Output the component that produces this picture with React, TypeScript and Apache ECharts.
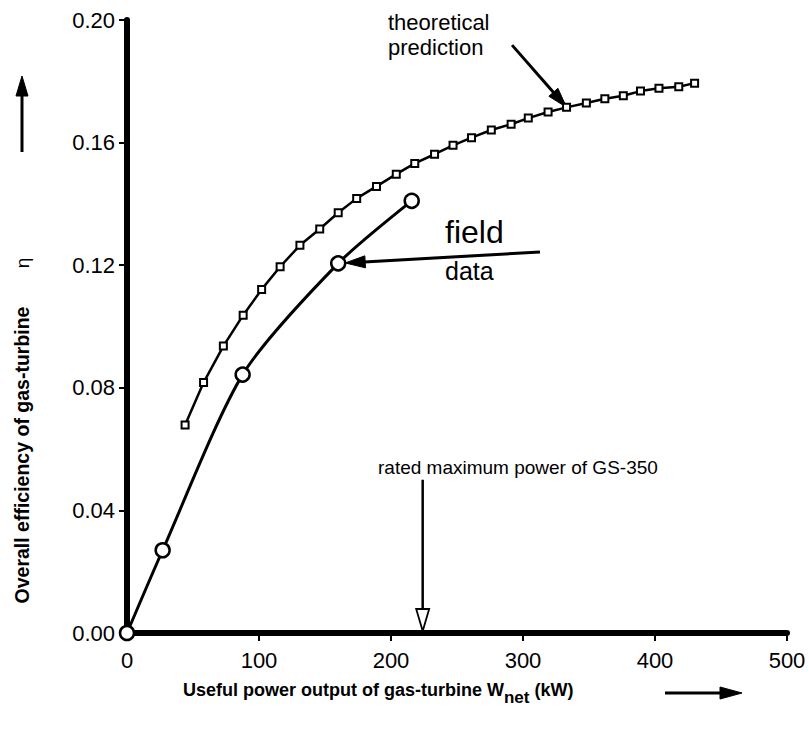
import React, { useEffect, useRef } from "react";
import * as echarts from "echarts";

// Theoretical prediction (square markers)
const theoryX = [44, 58, 73, 88, 102, 116, 131, 146, 160, 174, 189, 204, 218, 233, 247, 261, 276, 291, 304, 319, 333, 348, 362, 376, 389, 403, 418, 430];
const theoryY = [0.0679, 0.0817, 0.0936, 0.1037, 0.1121, 0.1195, 0.1265, 0.1318, 0.1371, 0.1418, 0.1457, 0.1497, 0.1532, 0.1562, 0.1591, 0.1616, 0.1641, 0.166, 0.168, 0.17, 0.1715, 0.1729, 0.1743, 0.1753, 0.1768, 0.1777, 0.1782, 0.1794];
// Field data (circle markers)
const fieldX = [0, 27, 87.6, 160, 215.7];
const fieldY = [0, 0.027, 0.0843, 0.1206, 0.141];
// Axis ranges
const xMin = 0, xMax = 500, xStep = 100;
const yMin = 0, yMax = 0.2, yStep = 0.04;
const ratedPower = 224;

const FONT = "Liberation Sans, Arial, Helvetica, sans-serif";

type P = number[];
function arrow(from: P, to: P, headLen: number, headW: number, open: boolean, lw: number) {
  const dx = to[0] - from[0], dy = to[1] - from[1];
  const L = Math.hypot(dx, dy);
  const ux = dx / L, uy = dy / L;
  const bx = to[0] - ux * headLen, by = to[1] - uy * headLen;
  const nx = -uy, ny = ux;
  return [
    {
      type: "line",
      silent: true,
      shape: { x1: from[0], y1: from[1], x2: bx + ux * 1, y2: by + uy * 1 },
      style: { stroke: "#000", lineWidth: lw },
    },
    {
      type: "polygon",
      silent: true,
      shape: {
        points: [
          [to[0], to[1]],
          [bx + (nx * headW) / 2, by + (ny * headW) / 2],
          [bx - (nx * headW) / 2, by - (ny * headW) / 2],
        ],
      },
      style: { fill: open ? "#fff" : "#000", stroke: "#000", lineWidth: open ? 1.8 : 1 },
    },
  ];
}

export default function App() {
  const ref = useRef<HTMLDivElement>(null);
  useEffect(() => {
    document.body.style.margin = "0";
    const chart = echarts.init(ref.current!, null, { renderer: "svg" });
    const axisCommon = {
      axisLine: { show: true, onZero: false, lineStyle: { color: "#000", width: 6 } },
      axisTick: { show: true, inside: false, length: 8, lineStyle: { color: "#000", width: 2 } },
      splitLine: { show: false },
    };
    chart.setOption({
      animation: false,
      backgroundColor: "#fff",
      grid: { left: 127, right: 22, top: 20, bottom: 98, containLabel: false },
      xAxis: {
        type: "value",
        min: xMin,
        max: xMax,
        interval: xStep,
        ...axisCommon,
        axisLabel: { color: "#000", fontFamily: FONT, fontSize: 22, margin: 16 },
      },
      yAxis: {
        type: "value",
        min: yMin,
        max: yMax,
        interval: yStep,
        ...axisCommon,
        axisLabel: {
          color: "#000",
          fontFamily: FONT,
          fontSize: 22,
          margin: 12,
          formatter: (v: number) => v.toFixed(2),
        },
      },
      series: [
        {
          name: "theoretical prediction",
          type: "line",
          data: theoryX.map((x, i) => [x, theoryY[i]]),
          symbol: "rect",
          symbolSize: 7,
          showAllSymbol: true,
          lineStyle: { color: "#000", width: 2.5 },
          itemStyle: { color: "#fff", borderColor: "#000", borderWidth: 2 },
          z: 3,
        },
        {
          name: "field data",
          type: "line",
          data: fieldX.map((x, i) => [x, fieldY[i]]),
          smooth: 0.25,
          symbol: "circle",
          symbolSize: 14,
          showAllSymbol: true,
          lineStyle: { color: "#000", width: 3 },
          itemStyle: { color: "#fff", borderColor: "#000", borderWidth: 2.5 },
          z: 4,
        },
      ],
    });

    const px = (x: number, y: number) => chart.convertToPixel({ gridIndex: 0 }, [x, y]) as number[];

    // theoretical arrow
    const tTip = px(theoryX[20], theoryY[20]);
    const tFrom = px(291.7, 0.1918);
    // field arrow
    const fC = px(fieldX[3], fieldY[3]);
    const fFrom = px(312.9, 0.1243);
    const fdx = fFrom[0] - fC[0], fdy = fFrom[1] - fC[1];
    const fl = Math.hypot(fdx, fdy);
    const fTip = [fC[0] + (fdx / fl) * 7, fC[1] + (fdy / fl) * 7];
    // rated arrow
    const rFrom = px(ratedPower, 0.05);
    const rTip = px(ratedPower, 0);

    const txt = (text: string, x: number, y: number, size: number, extra: any = {}) => ({
      type: "text",
      silent: true,
      x,
      y,
      style: {
        text,
        fill: "#000",
        font: `${extra.bold ? "bold " : ""}${size}px ${FONT}`,
        textAlign: extra.align || "left",
        textVerticalAlign: "middle",
      },
      rotation: extra.rotation || 0,
    });

    chart.setOption({
      graphic: [
        ...arrow(tFrom, tTip, 20, 12, false, 3),
        ...arrow(fFrom, fTip, 20, 12, false, 3),
        ...arrow(rFrom, [rTip[0], rTip[1] - 2], 22, 13, true, 2.5),
        txt("theoretical", 388, 22, 22),
        txt("prediction", 388, 47, 22),
        txt("field", 445, 232, 32),
        txt("data", 445, 271, 25),
        txt("rated maximum power of GS-350", 378, 467, 19),
        txt("Overall efficiency of gas-turbine", 22, 455, 19.5, { bold: true, align: "center", rotation: Math.PI / 2 }),
        txt("η", 22, 263, 19, { align: "center", rotation: Math.PI / 2 }),
        ...arrow([22, 152], [22, 76], 20, 12, false, 3),
        {
          type: "text",
          silent: true,
          x: 183,
          y: 690,
          style: {
            text: "{a|Useful power output of gas-turbine W}{s|net}{a| (kW)}",
            textVerticalAlign: "middle",
            rich: {
              a: { font: `bold 18px ${FONT}`, fill: "#000", height: 22 },
              s: { font: `bold 17px ${FONT}`, fill: "#000", height: 22, padding: [14, 0, 0, 0] },
            },
          },
        },
        ...arrow([665, 693], [742, 693], 22, 12, false, 3),
      ],
    });
    return () => chart.dispose();
  }, []);
  return <div ref={ref} style={{ width: 809, height: 731 }} />;
}
